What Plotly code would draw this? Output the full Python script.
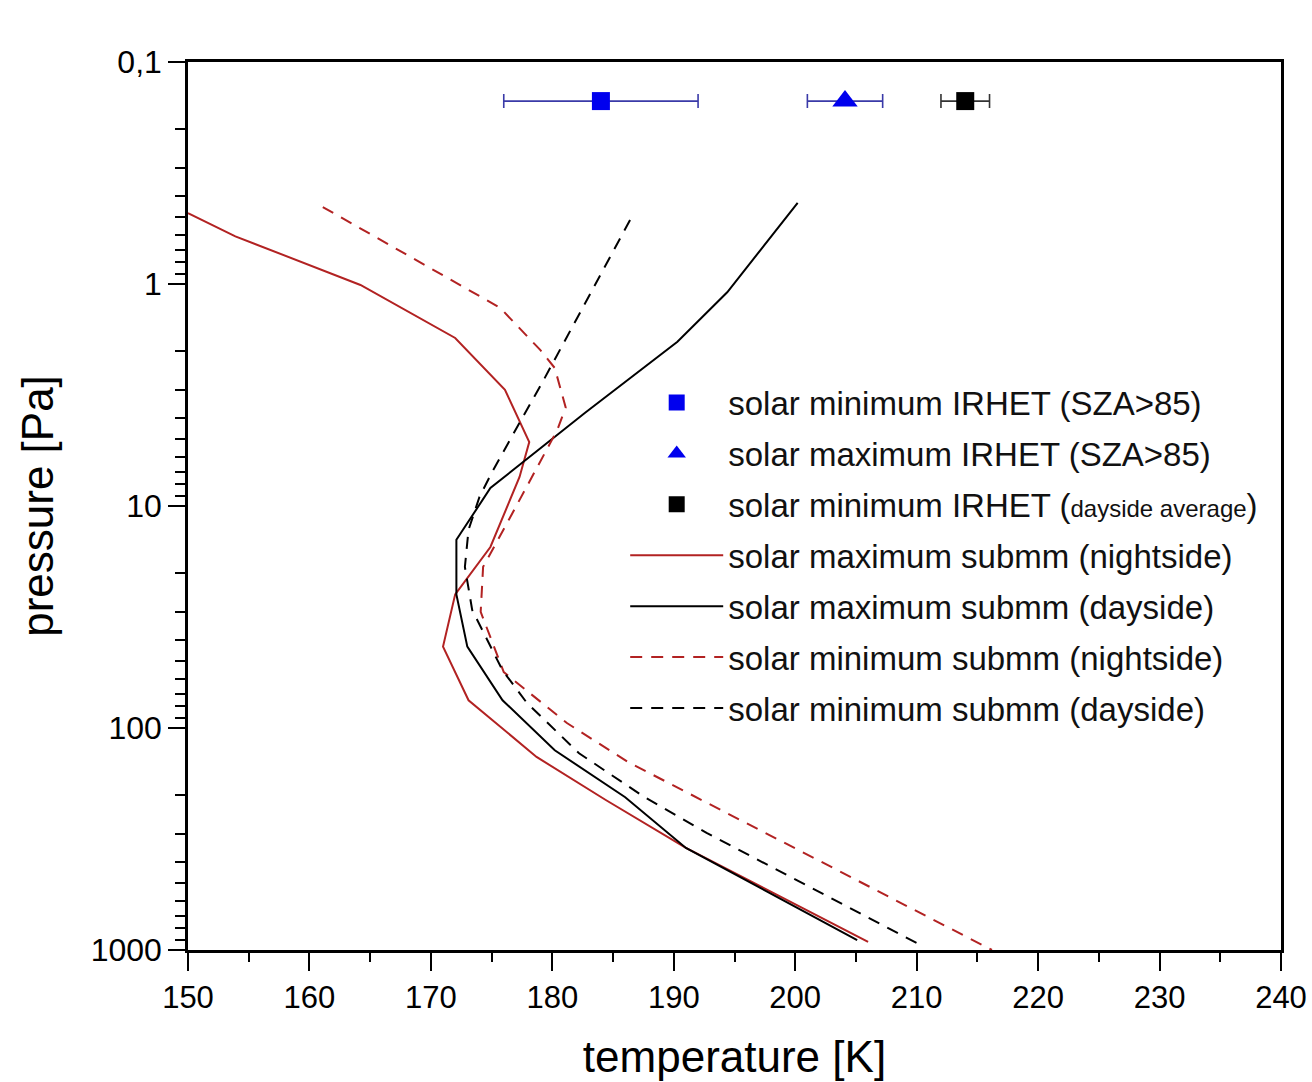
import plotly.graph_objects as go

# ---------------- data ----------------
# IRHET single points (temperature K, pressure Pa, +/- error K)
irhet_min_night_T = [184.0]
irhet_min_night_p = [0.15]
irhet_min_night_err = [8.0]

irhet_max_night_T = [204.1]
irhet_max_night_p = [0.15]
irhet_max_night_err = [3.1]

irhet_min_day_T = [214.0]
irhet_min_day_p = [0.15]
irhet_min_day_err = [2.0]

# submm profiles
max_night_T = [150.0, 153.9, 164.2, 172.0, 176.1, 178.1, 177.3, 174.9, 172.0, 171.0, 173.1, 178.7, 184.4, 191.0, 206.0]
max_night_p = [0.479, 0.61, 1.01, 1.75, 3.0, 5.15, 7.4, 15.3, 25, 43, 75, 135, 211, 347, 920]

max_day_T = [200.2, 194.4, 190.3, 182.7, 174.9, 172.1, 172.1, 173.0, 175.9, 180.2, 186.0, 191.0, 205.1]
max_day_p = [0.431, 1.09, 1.82, 3.8, 8.3, 14.2, 25, 43, 75, 126, 205, 347, 902]

min_night_T = [161.1, 175.7, 179.0, 180.2, 181.1, 180.4, 176.4, 174.3, 174.1, 176.0, 181.2, 186.2, 216.2]
min_night_p = [0.45, 1.28, 1.98, 2.39, 3.6, 4.55, 11.6, 18.8, 30, 56, 95, 142, 1000]

min_day_T = [186.4, 179.2, 176.5, 175.0, 174.0, 173.1, 172.8, 173.4, 175.9, 177.9, 182.2, 187.6, 192.7, 210.0]
min_day_p = [0.515, 2.76, 5.05, 7.1, 9.1, 12.8, 18.8, 29.4, 55, 77, 130, 205, 297, 930]

y_tickvals = [0.1, 1, 10, 100, 1000]
y_ticktext = ["0,1", "1", "10", "100", "1000"]
y_minor = [m * 10 ** e for e in range(-1, 3) for m in range(2, 10)]

# ---------------- styles ----------------
RED = "#b22222"
BLUE = "#0000ee"
FONT = "Arial, 'Liberation Sans', sans-serif"
DASH = "12px,9px"

fig = go.Figure()

fig.add_trace(go.Scatter(
    x=irhet_min_night_T, y=irhet_min_night_p, mode="markers",
    name="solar minimum IRHET (SZA>85)", legendgroup="a",
    marker=dict(symbol="square", size=18, color=BLUE),
    error_x=dict(type="data", array=irhet_min_night_err, color="#3a3aa8", thickness=1.6, width=7),
))
fig.add_trace(go.Scatter(
    x=irhet_max_night_T, y=irhet_max_night_p, mode="markers",
    name="solar maximum IRHET (SZA>85)", legendgroup="b",
    marker=dict(symbol="triangle-up", size=22, color=BLUE),
    error_x=dict(type="data", array=irhet_max_night_err, color="#3a3aa8", thickness=1.6, width=7),
))
fig.add_trace(go.Scatter(
    x=irhet_min_day_T, y=irhet_min_day_p, mode="markers",
    name="solar minimum IRHET (<span style='font-size:24px'>dayside average</span>)", legendgroup="c",
    marker=dict(symbol="square", size=18, color="black"),
    error_x=dict(type="data", array=irhet_min_day_err, color="#333333", thickness=1.6, width=7),
))
fig.add_trace(go.Scatter(
    x=max_night_T, y=max_night_p, mode="lines",
    name="solar maximum submm (nightside)", legendgroup="d",
    line=dict(color=RED, width=2),
))
fig.add_trace(go.Scatter(
    x=max_day_T, y=max_day_p, mode="lines",
    name="solar maximum submm (dayside)", legendgroup="e",
    line=dict(color="black", width=2),
))
fig.add_trace(go.Scatter(
    x=min_night_T, y=min_night_p, mode="lines",
    name="solar minimum submm (nightside)", legendgroup="f",
    line=dict(color=RED, width=2, dash=DASH),
))
fig.add_trace(go.Scatter(
    x=min_day_T, y=min_day_p, mode="lines",
    name="solar minimum submm (dayside)", legendgroup="g",
    line=dict(color="black", width=2, dash=DASH),
))

fig.update_layout(
    width=1312, height=1082,
    margin=dict(l=188, r=31, t=62, b=132),
    paper_bgcolor="white", plot_bgcolor="white",
    font=dict(family=FONT, color="black", size=31),
    showlegend=True,
    legend=dict(
        x=0.40, y=0.648, xanchor="left", yanchor="top",
        bgcolor="rgba(0,0,0,0)", borderwidth=0,
        font=dict(family=FONT, size=33, color="#111111"),
        itemwidth=93, tracegroupgap=5,
    ),
    xaxis=dict(
        range=[150, 240], dtick=10, tick0=150, automargin=False,
        showline=True, linecolor="black", linewidth=2.5, mirror=True,
        ticks="outside", ticklen=18, tickwidth=2, tickcolor="black",
        minor=dict(dtick=5, ticks="outside", ticklen=9, tickwidth=2, tickcolor="black"),
        showgrid=False, zeroline=False,
        tickfont=dict(size=31),
        title=dict(text="temperature [K]", font=dict(size=44), standoff=28),
    ),
    yaxis=dict(
        type="log", range=[3, -1], automargin=False,
        tickmode="array", tickvals=y_tickvals, ticktext=y_ticktext,
        showline=True, linecolor="black", linewidth=2.5, mirror=True,
        ticks="outside", ticklen=17, tickwidth=2, tickcolor="black",
        minor=dict(tickmode="array", tickvals=y_minor, ticks="outside", ticklen=10, tickwidth=2, tickcolor="black"),
        showgrid=False, zeroline=False,
        tickfont=dict(size=32),
        title=dict(text="pressure [Pa]", font=dict(size=44), standoff=24),
    ),
)

fig.write_html("out.html")
